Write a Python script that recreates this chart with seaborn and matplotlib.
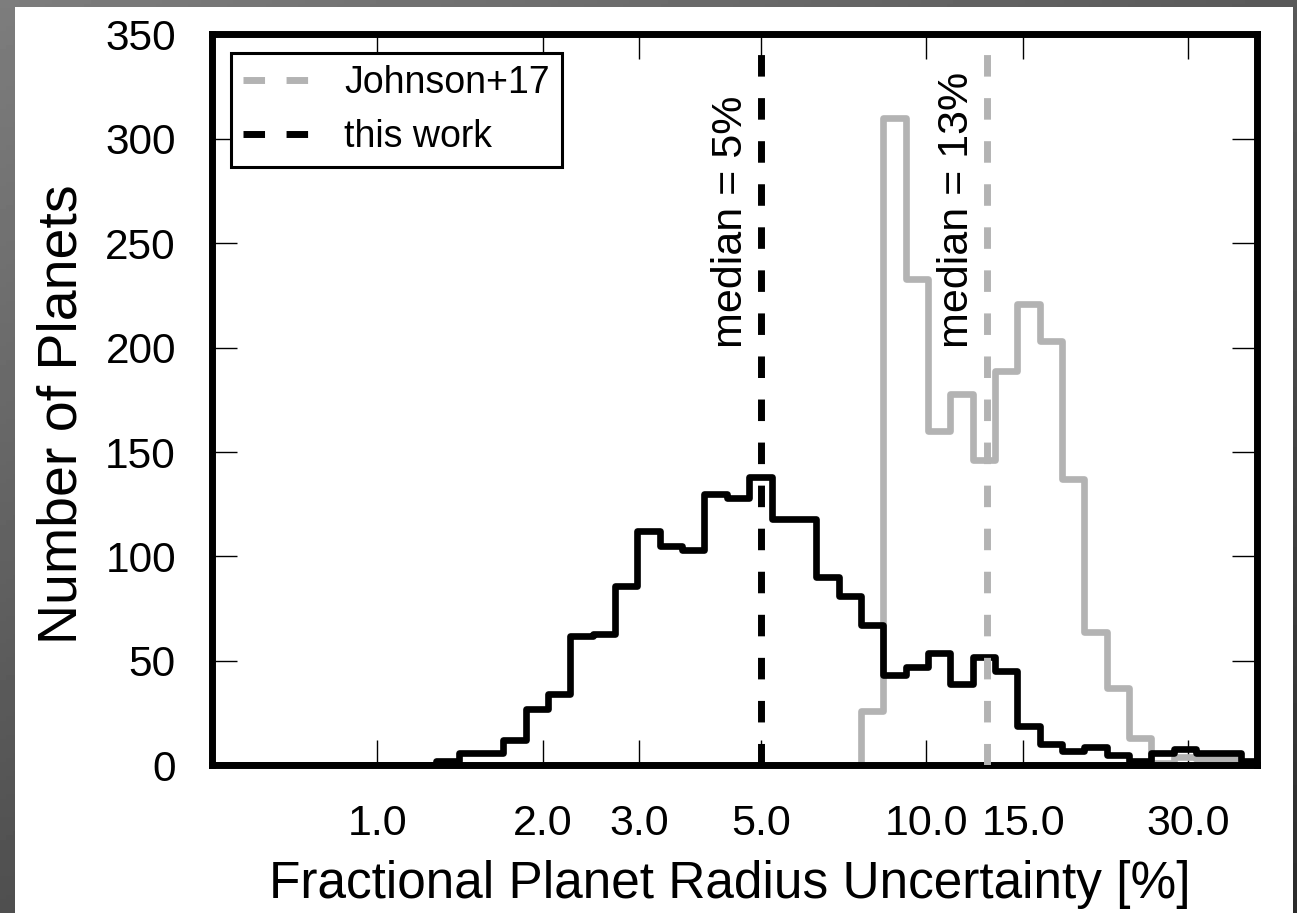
import numpy as np
import matplotlib
matplotlib.use("Agg")
import matplotlib.pyplot as plt
import seaborn as sns
from matplotlib.patches import Rectangle
from matplotlib.ticker import NullLocator

# ---------------- data ----------------
log_bin_start = -0.3403      # log10 of the first bin edge
log_bin_width = 0.0407       # bin width in dex
this_work_counts = [0] * 11 + [2, 6, 6, 12, 27, 34, 62, 63, 86, 112, 105, 103,
                               130, 128, 138, 118, 118, 90, 81, 67, 43, 47, 54,
                               39, 52, 45, 19, 10, 7, 9, 5, 2, 6, 8, 6, 6, 2]
johnson_counts = [0] * 30 + [26, 310, 233, 160, 178, 146, 189, 221, 203, 137,
                             64, 37, 13, 1, 4, 3, 3, 1]
series_labels = ["Johnson+17", "this work"]
medians = [12.9, 5.0]
median_texts = ["median = 13%", "median = 5%"]
xtick_values = [1, 2, 3, 5, 10, 15, 30]
xtick_labels = ["1.0", "2.0", "3.0", "5.0", "10.0", "15.0", "30.0"]
ytick_values = [0, 50, 100, 150, 200, 250, 300, 350]

# ---------------- style ----------------
sns.set_theme(style="ticks")
plt.rcParams["font.family"] = ["Liberation Sans", "DejaVu Sans"]
plt.rcParams.update({"text.color": "black", "axes.labelcolor": "black",
                     "xtick.color": "black", "ytick.color": "black"})

W, H, DPI = 1297, 913, 100
fig = plt.figure(figsize=(W / DPI, H / DPI), dpi=DPI)

# slide-like gray gradient background with white panel
bg = fig.add_axes([0, 0, 1, 1], zorder=-10)
gx, gy = np.meshgrid(np.linspace(0, 1, 200), np.linspace(0, 1, 200))
bg.imshow(0.49 - 0.14 * gx - 0.18 * gy, cmap="gray", vmin=0, vmax=1,
          aspect="auto", extent=[0, 1, 0, 1], origin="upper")
bg.set_axis_off()
fig.patches.append(Rectangle((15 / W, 0), (1293 - 15) / W, (913 - 7) / H,
                             transform=fig.transFigure, facecolor="white",
                             edgecolor="none", zorder=-5))

ax = fig.add_axes([212 / W, 1 - 765.3 / H, (1257 - 212) / W, (765.3 - 34.3) / H])
ax.set_facecolor("white")

nbins = len(this_work_counts)
log_edges = log_bin_start + log_bin_width * np.arange(nbins + 1)
centers = 10 ** ((log_edges[:-1] + log_edges[1:]) / 2)

gray = "#b3b3b3"
hist_kw = dict(bins=[float(e) for e in log_edges], log_scale=True,
               element="step", fill=False, linewidth=4.8, ax=ax)
sns.histplot(x=centers, weights=np.asarray(johnson_counts, float), color=gray, **hist_kw)
sns.histplot(x=centers, weights=np.asarray(this_work_counts, float), color="black", **hist_kw)

line_colors = [gray, "black"]
for m, lab, c, t in zip(medians, series_labels, line_colors, median_texts):
    ax.axvline(m, color=c, lw=5, dashes=(3.1, 3.1), label=lab, zorder=5)
    ax.annotate(t, xy=(m, 200), xytext=(-7, 0), textcoords="offset points",
                rotation=90, ha="right", va="bottom", fontsize=31,
                color="black")

ax.set_xscale("log")
ax.set_xlim(0.5, 40)
ax.set_ylim(0, 350)
ax.set_xticks(xtick_values)
ax.set_xticklabels(xtick_labels)
ax.xaxis.set_minor_locator(NullLocator())
ax.set_yticks(ytick_values)
ax.set_yticklabels([str(v) for v in ytick_values])

ax.tick_params(which="major", direction="in", length=18, width=1,
               top=True, right=True, colors="black")
ax.tick_params(axis="x", pad=28, labelsize=31)
ax.tick_params(axis="y", pad=26, labelsize=30.5)
for s in ax.spines.values():
    s.set_linewidth(5)
    s.set_color("black")

ax.set_xlabel("Fractional Planet Radius Uncertainty [%]", fontsize=37, labelpad=8)
ax.set_ylabel("Number of Planets", fontsize=40, labelpad=11)
ax.yaxis.set_label_coords(-0.118, 0.48)
ax.xaxis.set_label_coords(0.4957, -0.129)

leg = ax.legend(loc="upper left", fontsize=27, frameon=True, fancybox=False,
                edgecolor="black", framealpha=1, handlelength=1.75,
                handletextpad=0.95, borderpad=0.33, labelspacing=0.47,
                borderaxespad=0.5)
leg.get_frame().set_linewidth(2.2)
for txt in leg.get_texts():
    txt.set_color("black")

fig.savefig("out.png", dpi=DPI)
